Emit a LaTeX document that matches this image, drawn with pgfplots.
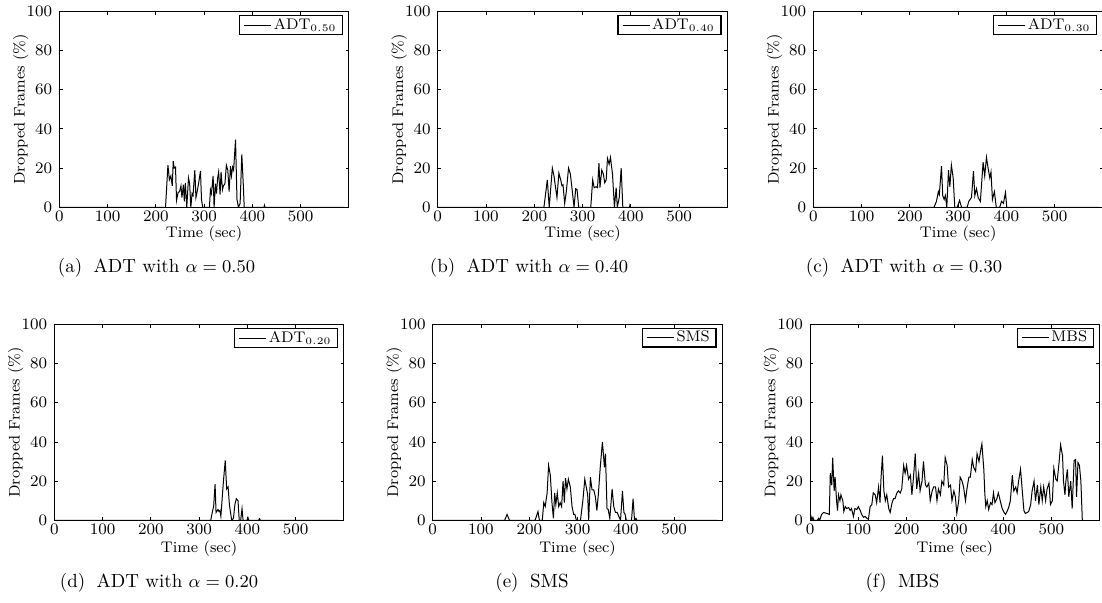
\documentclass[border=0pt]{standalone}
\usepackage{pgfplots}
\pgfplotsset{compat=1.18}
\pgfplotsset{
  myax/.style={
    scale only axis, width=144.85pt, height=98pt, anchor=south west,
    xmin=0, xmax=600, ymin=0, ymax=100,
    xtick={0,100,...,500}, ytick={0,20,...,100},
    tick align=inside, major tick length=1.7pt,
    axis line style={line width=0.5pt},
    tick style={line width=0.4pt, black},
    xlabel={Time (sec)}, ylabel={Dropped Frames (\%)},
    label style={font=\fontsize{7.7}{9}\selectfont},
    tick label style={font=\fontsize{7.7}{9}\selectfont},
    xticklabel style={inner sep=1.5pt},
    xlabel style={at={(axis description cs:0.5,-0.136)}, anchor=center},
    ylabel style={at={(axis description cs:-0.133,0.5)}, anchor=center},
    legend style={font=\fontsize{7.7}{9}\selectfont, inner xsep=2pt, inner ysep=0pt,
      nodes={inner sep=1.1pt}, line width=0.6pt, draw=black,
      at={(0.98,0.98)}, anchor=north east},
    legend image code/.code={\draw[#1, line width=0.5pt] (0pt,0pt) -- (13.5pt,0pt);},
  },
  dat/.style={black, line width=0.5pt},
}
\begin{document}
\begin{tikzpicture}
\useasboundingbox (0pt,0pt) rectangle (551pt,-301.5pt);
% (a)
\begin{axis}[myax, at={(29.65pt,-103.65pt)}]
\addplot[dat] table {
0 0
220 0
225 21.5
228 14
231 16
234 11
236 23.5
238 20
240.7 20.5
242.8 3.5
246 7.5
249 8
252 11
254 5
257 11.5
259 3
261 12.5
264 0
267.6 15
270 12
272.4 0
275 7
277 6
280.7 19
283 5
285.5 8
289 13
292.4 18.5
294.5 4
297 0
311 0
313 9
315 7
318.6 16
320.6 0
323.4 12
325.5 7
328 15
330 18
333 6.5
335 18
338 9
340 11
343 12
346 21.5
349 19
351.7 8
354.5 21
356.5 16
359 20.5
361 19
365 34.5
368 4
371 0
374.5 2
378 27
381 12
383 0
424 0
425 1
426 0
590 0
};
\addlegendentry{ADT$_{0.50}$}
\end{axis}
% (b)
\begin{axis}[myax, at={(218.85pt,-103.65pt)}]
\addplot[dat] table {
0 0
220 0
227 14
231 0
237.4 20
240.8 16
243.6 11
247 5
251 17.5
254.7 14
257.4 11
259.5 11.5
263 2
266.4 8
271 20
274.7 17
278 10
282.4 0
285.8 9.5
288.6 9
292 0
317 0
321 14
324 10
328 10.5
331 10
334 22.5
336 10
339.8 19
343 17
346 12.5
349 14
351.6 25
355 22
357.8 25.5
362 17
366 0
369.6 10
372 0
376 5
380 20
383.4 0
397 0
398 1
399 0
590 0
};
\addlegendentry{ADT$_{0.40}$}
\end{axis}
% (c)
\begin{axis}[myax, at={(406.65pt,-103.65pt)}]
\addplot[dat] table {
0 0
250 0
255 3
259 8
261 6.5
265.5 21
268 6
271 4
273.5 6
276.5 0
280 19
282.8 10.5
286 21.5
289.7 15
293 0
298 0
303 3.5
307 0
318.6 0
322 3
327.6 5
331.7 18.5
334.5 6
338 9.5
341.4 5
346 3
351.7 23
355 16
358.6 25.5
362 20
365.5 15
368 18
371 4
375 8
379 0
386 0
389.7 3
393.8 2
398 7.5
400.7 0
590 0
};
\addlegendentry{ADT$_{0.30}$}
\end{axis}
% (d)
\begin{axis}[myax, at={(27.15pt,-260.15pt)}, xlabel style={at={(axis description cs:0.5,-0.146)}}]
\addplot[dat] table {
0 0
324 0
328 5
330 7
333 18.5
335 4
339 5.5
341 4.5
343 5
345 2
350 19
354 30.5
357 16
360 17
362.6 8
367.4 0
371 1
374 8
377 11
380.5 10
383 0
386 0
388.8 6
391 0
399 0
401 1.5
403 0
423 0
425 0.8
427 0
590 0
};
\addlegendentry{ADT$_{0.20}$}
\end{axis}
% (e)
\begin{axis}[myax, at={(216.35pt,-260.15pt)}, xlabel style={at={(axis description cs:0.5,-0.146)}}]
\addplot[dat] table {
0 0
149 0
154 3
159 0
212 0
218 4.5
221 0
227 0
230 9
233 7
237 14
240 28
243.6 23
247 9
250 1
252.6 14
255 8
258 14
261 7
264 9
267 7
270 20
272.7 9
275 21.5
278 16
281 21
285 17
288.6 7
292 3
294.5 3
297.6 0
306 0
311 10
315 21
318 17
321 13
323 0
326.6 22
330 15.5
333.5 15.5
337 12
340 5
343 13
347 27
351.5 40
355.7 27
357.8 34
361 6
363.5 5.5
366.8 1
371.6 16
375 7
378.5 4
382 4
385.5 2
389 0
393 15
396 4
398.6 3
401 0
411.8 0
415 11
418 0
421 1
423 0
590 0
};
\addlegendentry{SMS}
\end{axis}
% (f)
\begin{axis}[myax, at={(405pt,-260.15pt)}, xlabel style={at={(axis description cs:0.5,-0.146)}}]
\addplot[dat] table {
0 0
2 2
4 0
6 1.5
8 0
15 0
18 1
20 0
24 3
28 4
35 3.5
40 3
42 24
45 18
47 32
50 15
52 22
55 10
57 5
59 13
62 10
64 13
68 10
70 4.5
73 7
76 6
80 6.5
83 5
86 6
90 2
93 6
97 5.5
100 7
104 5
107 3
111 1.5
114 2
118 1
121 0.5
124.5 7
128 8
131 14
135 13
138 9
142 17
145 9
147 21
150 33
153 15
156 10
159 13
163 6
166 4
170 9
173 11
176 11
180 14
183 15
187 14
190 16
194 28
197 24
200 28
204 21
208 23
211 13
214 21
218 34
221 16
225 24
228 15
232 20
235 30
239 18
242 17
246 19
249 10
253 15
256 17
260 17
263 10
266 16
270 13
273 20
277 18
280 32
284 28
287 17
291 18
294 10
298 15
301 12
304 3.5
308 10
311 22
315 20
318 17
322 10
325 16
329 22
332 22
336 31
339 27
343 25
346 34
350 30
353 35
356 39
360 26
362 14
364 7
367 10
370 5.5
374 9
377 8
380 14
383 9
387 11
390 14
394 10
398 6
402 4
405 3
409 5
412 7
415 10
419 23
422 15
426 17
429 14
432 20
436 26
440 14
443 5
446 3.5
450 4
453 4.5
457 8
460 15
464 20
467 10
471 18
474 8
478 17
481 10
484 17
488 10
491 16
495 19
498 8
502 10
505 26.5
509 21
512 20
516 30
519 38.5
523 33
525 20
528 13
530 20
533 26
536 12
540 20
543 6
547 30.5
550 31
552 12
555 29.5
558 28
561 20
564 0
};
\addlegendentry{MBS}
\end{axis}
% captions
\begin{scope}[every node/.style={font=\fontsize{9.5}{11}\selectfont, anchor=center, inner sep=0pt}]
\node at (78.25pt,-133.75pt) {(a)\hspace{0.6em}ADT with $\alpha = 0.50$};
\node at (264.5pt,-133.75pt) {(b)\hspace{0.6em}ADT with $\alpha = 0.40$};
\node at (452pt,-133.75pt) {(c)\hspace{0.6em}ADT with $\alpha = 0.30$};
\node at (79.5pt,-291.25pt) {(d)\hspace{0.6em}ADT with $\alpha = 0.20$};
\node at (266pt,-291.25pt) {(e)\hspace{0.6em}SMS};
\node at (451.25pt,-291.25pt) {(f)\hspace{0.6em}MBS};
\end{scope}
\end{tikzpicture}
\end{document}
